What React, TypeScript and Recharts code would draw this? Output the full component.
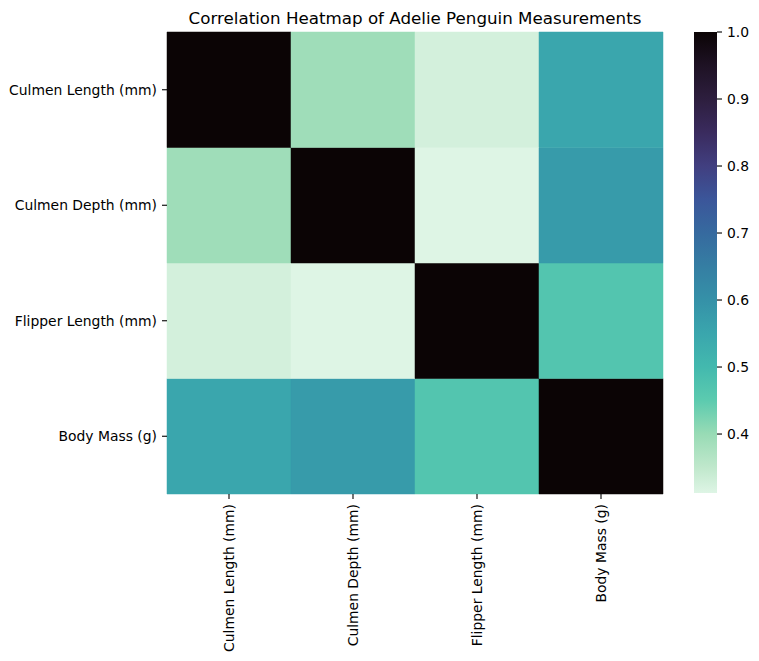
import React from 'react';
import { BarChart, Bar, XAxis, YAxis, Cell } from 'recharts';

// ---- data ----
const variables = ['Culmen Length (mm)', 'Culmen Depth (mm)', 'Flipper Length (mm)', 'Body Mass (g)'];
const culmenLengthCorr = [1.0, 0.391, 0.326, 0.549];
const culmenDepthCorr = [0.391, 1.0, 0.312, 0.576];
const flipperLengthCorr = [0.326, 0.312, 1.0, 0.468];
const bodyMassCorr = [0.549, 0.576, 0.468, 1.0];
const corrRows = [culmenLengthCorr, culmenDepthCorr, flipperLengthCorr, bodyMassCorr];
const colorbarTicks = [0.4, 0.5, 0.6, 0.7, 0.8, 0.9, 1.0];
const titleText = 'Correlation Heatmap of Adelie Penguin Measurements';

// ---- mako_r colour ramp (value -> colour) ----
const makoStops: [number, string][] = [
  [0.312, '#def5e5'],
  [0.35, '#c0e8cc'],
  [0.4, '#98dbb5'],
  [0.45, '#5ccbaf'],
  [0.5, '#43b9ae'],
  [0.55, '#3aa6ad'],
  [0.6, '#3591a8'],
  [0.65, '#357ea3'],
  [0.7, '#366a9f'],
  [0.75, '#3b569a'],
  [0.8, '#413f80'],
  [0.85, '#3a2b5e'],
  [0.9, '#2d1e3e'],
  [0.95, '#1e1224'],
  [1.0, '#0b0405'],
];

const allVals = corrRows.flat();
const cbMin = Math.min(...allVals);
const cbMax = Math.max(...allVals);

function hexToRgb(h: string) {
  const n = parseInt(h.slice(1), 16);
  return [(n >> 16) & 255, (n >> 8) & 255, n & 255];
}
function colorFor(v: number) {
  const stops = makoStops;
  if (v <= stops[0][0]) return stops[0][1];
  for (let i = 1; i < stops.length; i++) {
    if (v <= stops[i][0]) {
      const [v0, c0] = stops[i - 1];
      const [v1, c1] = stops[i];
      const t = (v - v0) / (v1 - v0);
      const a = hexToRgb(c0);
      const b = hexToRgb(c1);
      const m = a.map((x, k) => Math.round(x + (b[k] - x) * t));
      return `rgb(${m[0]},${m[1]},${m[2]})`;
    }
  }
  return stops[stops.length - 1][1];
}

// one column per variable, each row stacked as a unit-height block
const heatData = variables.map((name, j) => {
  const d: Record<string, any> = { name };
  corrRows.forEach((_, i) => {
    d[`r${i}`] = 1;
  });
  return d;
});
const colorbarData = [{ name: 'cb', span: [cbMin, cbMax] }];

const FONT = '"DejaVu Sans", sans-serif';

const XTick = (props: any) => {
  const { x, y, payload } = props;
  return (
    <text
      x={x}
      y={y}
      transform={`rotate(-90, ${x}, ${y})`}
      textAnchor="end"
      dominantBaseline="central"
      fontSize={13.9}
      fontFamily={FONT}
      fill="#000"
    >
      {payload.value}
    </text>
  );
};

export default function App() {
  // bottom row of the stack is the last variable
  const stackOrder = [3, 2, 1, 0];
  return (
    <div style={{ position: 'absolute', left: 0, top: 0, width: 759, height: 661, background: '#fff' }}>
      <div style={{ position: 'absolute', left: 0, top: 0 }}>
        <BarChart
          width={759}
          height={661}
          data={heatData}
          margin={{ top: 32, right: 96, bottom: 0, left: 0 }}
          barCategoryGap={0}
          barGap={0}
        >
          <XAxis
            dataKey="name"
            type="category"
            height={167}
            axisLine={false}
            tickLine={{ stroke: '#000', strokeWidth: 1.1 }}
            tickSize={5}
            tickMargin={5}
            interval={0}
            tick={<XTick />}
          />
          <YAxis
            type="number"
            domain={[0, 4]}
            ticks={[0.5, 1.5, 2.5, 3.5]}
            width={167}
            axisLine={false}
            tickLine={{ stroke: '#000', strokeWidth: 1.1 }}
            tickSize={5}
            tickMargin={5}
            tickFormatter={(v: number) => variables[3 - Math.floor(v)]}
            tick={{ fontSize: 13.9, fontFamily: FONT, fill: '#000' }}
          />
          {stackOrder.map((i) => (
            <Bar key={i} dataKey={`r${i}`} stackId="heat" isAnimationActive={false}>
              {heatData.map((_, j) => (
                <Cell
                  key={j}
                  fill={colorFor(corrRows[i][j])}
                  stroke={colorFor(corrRows[i][j])}
                  strokeWidth={0.5}
                />
              ))}
            </Bar>
          ))}
        </BarChart>
      </div>
      <div style={{ position: 'absolute', left: 0, top: 0 }}>
        <BarChart
          width={759}
          height={661}
          data={colorbarData}
          margin={{ top: 32, right: 0, bottom: 168, left: 694 }}
          barCategoryGap={0}
        >
          <defs>
            <linearGradient id="makoGrad" x1="0" y1="0" x2="0" y2="1">
              {[...makoStops].reverse().map(([v, c], k) => (
                <stop key={k} offset={`${((cbMax - v) / (cbMax - cbMin)) * 100}%`} stopColor={c} />
              ))}
            </linearGradient>
          </defs>
          <XAxis dataKey="name" hide />
          <YAxis
            type="number"
            orientation="right"
            domain={[cbMin, cbMax]}
            ticks={colorbarTicks}
            width={42}
            axisLine={false}
            tickLine={{ stroke: '#000', strokeWidth: 1.1 }}
            tickSize={5}
            tickMargin={5}
            tickFormatter={(v: number) => v.toFixed(1)}
            tick={{ fontSize: 13.9, fontFamily: FONT, fill: '#000' }}
          />
          <Bar dataKey="span" fill="url(#makoGrad)" isAnimationActive={false} />
        </BarChart>
      </div>
      <svg
        width={759}
        height={661}
        style={{ position: 'absolute', left: 0, top: 0, pointerEvents: 'none' }}
      >
        <text x={415} y={24} textAnchor="middle" fontSize={16.7} fontFamily={FONT} fill="#000">
          {titleText}
        </text>
      </svg>
    </div>
  );
}
